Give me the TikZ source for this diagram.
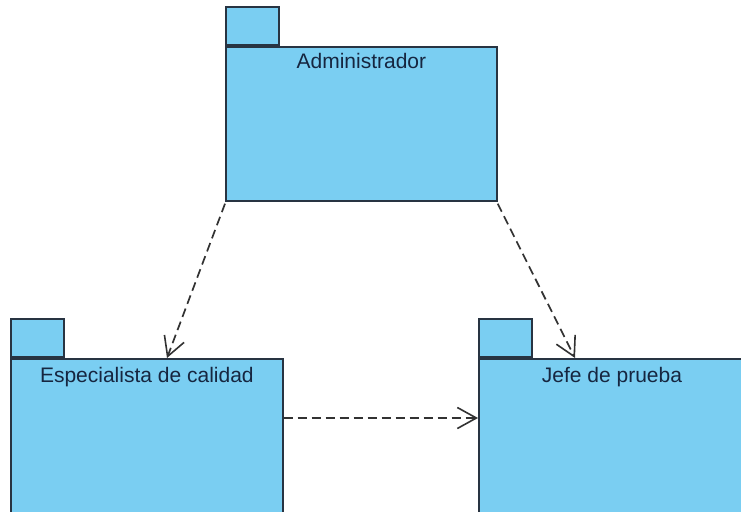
\documentclass[tikz,border=0pt]{standalone}
\usepackage{fontspec}
\setmainfont{Liberation Sans}
\usetikzlibrary{arrows.meta,calc}
\definecolor{pkgfill}{RGB}{122,206,242}
\definecolor{pkgline}{RGB}{40,52,66}
\definecolor{pkgtext}{RGB}{22,38,64}
\definecolor{arrowcol}{RGB}{50,50,50}
\tikzset{
  pkgbody/.style={draw=pkgline, fill=pkgfill, line width=1.7pt, anchor=north west, inner sep=0pt, minimum width=#1},
  pkgtab/.style={draw=pkgline, fill=pkgfill, line width=1.7pt, anchor=south west, inner sep=0pt, minimum width=53pt, minimum height=38pt},
  pkglabel/.style={anchor=base, text=pkgtext, font=\fontsize{21}{24}\selectfont, inner sep=0pt},
  dep/.style={draw=arrowcol, line width=1.7pt, dash pattern=on 9pt off 5pt, -{Straight Barb[length=19pt,width=21pt,line width=1.6pt]}}
}
\begin{document}
\begin{tikzpicture}[x=1pt,y=-1pt]
\clip (0,0) rectangle (741,511);
\fill[white] (0,0) rectangle (741,511);
% Administrador
\node[pkgbody=271pt, minimum height=154pt] (adm) at (225,46) {};
\node[pkgtab] (admtab) at (adm.north west) {};
\node[pkglabel] (admlab) at ($(adm.north)+(0,23)$) {Administrador};
% Especialista de calidad
\node[pkgbody=272pt, minimum height=180pt] (esp) at (10,358) {};
\node[pkgtab] (esptab) at (esp.north west) {};
\node[pkglabel] (esplab) at ($(esp.north)+(0,24)$) {Especialista de calidad};
% Jefe de prueba
\node[pkgbody=280pt, minimum height=180pt] (jefe) at (478,358) {};
\node[pkgtab] (jefetab) at (jefe.north west) {};
\node[pkglabel] (jefelab) at ($(jefe.north west)+(134,24)$) {Jefe de prueba};
% connectors
\coordinate (a1) at ($(adm.south west)+(0,2)$);
\coordinate (a2) at ($(adm.south east)+(0,2)$);
\coordinate (e1) at ($(esp.north west)+(157,0)$);
\coordinate (j1) at ($(jefe.north west)+(97,0)$);
\coordinate (e2) at ($(esp.north east)+(0,60)$);
\coordinate (j2) at ($(jefe.north west)+(0,60)$);
\draw[dep] (a1) -- (e1);
\draw[dep] (a2) -- (j1);
\draw[dep] (e2) -- (j2);
\end{tikzpicture}
\end{document}
